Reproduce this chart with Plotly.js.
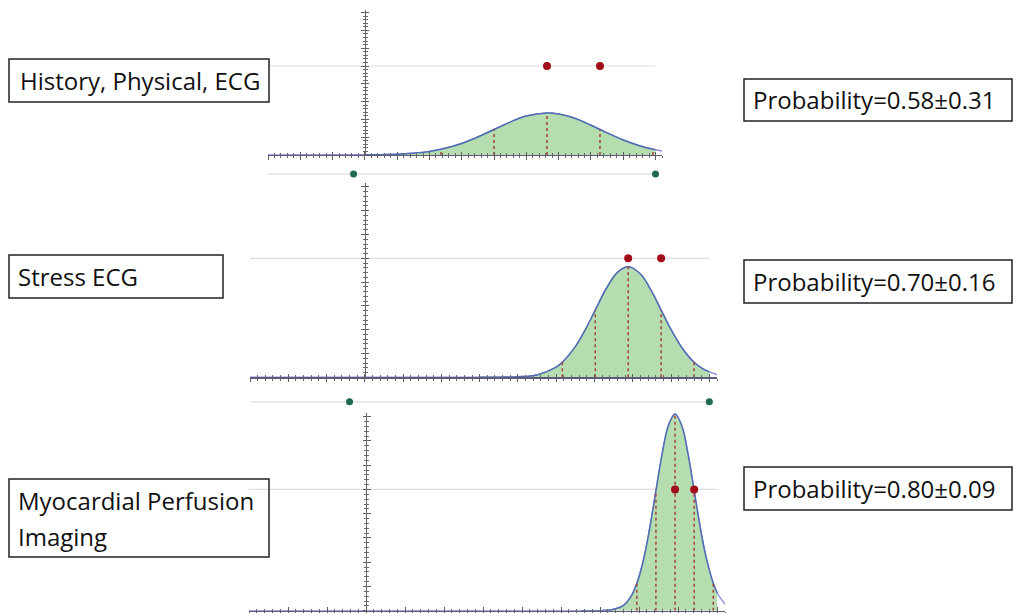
<!DOCTYPE html>
<html><head><meta charset="utf-8">
<script src="https://cdn.plot.ly/plotly-3.0.1.min.js"></script>
<style>html,body{margin:0;padding:0;background:#fff}#chart{width:1016px;height:613px}</style>
</head><body><div id="chart"></div>
<script>
// ---------------- data ----------------
const testNames = [["History, Physical, ECG"], ["Stress ECG"], ["Myocardial Perfusion", "Imaging"]];
const probLabels = ["Probability=0.58±0.31", "Probability=0.70±0.16", "Probability=0.80±0.09"];

// density curves (x = probability, y = height in axis units)
const curve1X = [-0.3, 0, 0.05, 0.1, 0.15, 0.2, 0.236, 0.3, 0.35, 0.4, 0.45, 0.5, 0.564, 0.6, 0.65, 0.7, 0.728, 0.75, 0.8, 0.85, 0.892, 0.9, 0.92];
const curve1Y = [0, 0.01, 0.02, 0.04, 0.10, 0.20, 0.32, 0.65, 1.01, 1.43, 1.85, 2.19, 2.36, 2.30, 2.06, 1.67, 1.43, 1.24, 0.84, 0.52, 0.32, 0.29, 0.22];
const curve2X = [-0.3, 0.3, 0.4, 0.45, 0.5, 0.516, 0.55, 0.58, 0.602, 0.63, 0.66, 0.688, 0.72, 0.75, 0.774, 0.8, 0.83, 0.86, 0.88, 0.9, 0.92];
const curve2Y = [0, 0, 0.02, 0.10, 0.43, 0.63, 1.29, 2.12, 2.82, 3.71, 4.41, 4.65, 4.34, 3.59, 2.82, 2.00, 1.20, 0.63, 0.39, 0.23, 0.12];
const curve3X = [-0.3, 0.55, 0.6, 0.63, 0.66, 0.68, 0.694, 0.71, 0.725, 0.743, 0.76, 0.775, 0.792, 0.81, 0.825, 0.841, 0.855, 0.87, 0.89, 0.9, 0.92];
const curve3Y = [0, 0, 0, 0.04, 0.22, 0.61, 1.12, 2.02, 3.21, 4.94, 6.56, 7.64, 8.11, 7.59, 6.48, 4.94, 3.57, 2.31, 1.12, 0.73, 0.27];

// dotted red guide positions (mean, ±1 sd, ±2 sd)
const dash1X = [0.236, 0.4, 0.564, 0.728, 0.892];
const dash2X = [0.516, 0.602, 0.688, 0.774, 0.86];
const dash3X = [0.694, 0.743, 0.792, 0.841, 0.89];

// red points on the reference line
const red1X = [0.564, 0.728];
const red2X = [0.688, 0.774];
const red3X = [0.792, 0.841];
const refLevel = 5;
const refLineX = [-0.3, 0.9];
const fillRange = [0, 0.9];

// green slider points below panels 1 and 2
const green1X = [-0.035, 0.9];
const green2X = [-0.04, 0.9];
const greenLevels = [-1.07, -1.03];

// ---------------- layout geometry ----------------
const W = 1016, H = 613;
const fx = p => p / W, fy = p => 1 - p / H;
const XR = [-0.3, 0.92], YTOP = 8.15;
const geom = [
  {x0: 268, x1: 662, base: 155,   ppu: 17.8,  strip: [163, 185]},
  {x0: 250, x1: 717, base: 377.3, ppu: 23.8,  strip: [390, 413]},
  {x0: 249, x1: 725, base: 610.7, ppu: 24.25, strip: null}
];
const panels = [
  {x: curve1X, y: curve1Y, dash: dash1X, red: red1X, green: green1X, gl: greenLevels[0]},
  {x: curve2X, y: curve2Y, dash: dash2X, red: red2X, green: green2X, gl: greenLevels[1]},
  {x: curve3X, y: curve3Y, dash: dash3X, red: red3X, green: null, gl: null}
];

const COL = {
  fill: '#b5ddb0', edge: '#4f6db2', tail: '#9088e2', dash: '#a3413b',
  red: '#a10c18', green: '#1f6a4f', ref: '#dedede', axis: '#5d5d7a', tick: '#5e5e5e'
};

const id = (a, n) => a + (n === 1 ? '' : n);
const traces = [];
const layout = {
  width: W, height: H, margin: {l: 0, r: 0, t: 0, b: 0}, autosize: false,
  paper_bgcolor: '#ffffff', plot_bgcolor: 'rgba(0,0,0,0)', showlegend: false,
  shapes: [], annotations: []
};

panels.forEach((p, i) => {
  const n = i + 1, g = geom[i];
  const xa = id('x', n), ya = id('y', n);
  const originPx = g.x0 + (0 - XR[0]) / (XR[1] - XR[0]) * (g.x1 - g.x0);
  const ydom = [fy(g.base), fy(g.base - YTOP * g.ppu)];

  const common = {showgrid: false, zeroline: false, showticklabels: false, fixedrange: true,
                  tickcolor: COL.tick, tickwidth: 1};
  layout[id('xaxis', n)] = Object.assign({}, common, {
    domain: [fx(g.x0), fx(g.x1)], range: XR, anchor: ya,
    showline: true, linecolor: COL.axis, linewidth: 1.3,
    tickmode: 'linear', tick0: 0, dtick: 0.1, ticks: 'outside', ticklen: 3.5,
    minor: {dtick: 0.02, tick0: 0, ticks: 'outside', ticklen: 2, tickcolor: '#6a6a6a'}
  });
  layout[id('xaxis', n + 3)] = Object.assign({}, common, {
    domain: [fx(g.x0), fx(g.x1)], range: XR, anchor: id('y', n + 3), overlaying: xa,
    showline: false, tickmode: 'linear', tick0: 0, dtick: 0.1, ticks: 'inside', ticklen: 3.5,
    minor: {dtick: 0.02, tick0: 0, ticks: 'inside', ticklen: 2, tickcolor: '#6a6a6a'}
  });
  layout[id('yaxis', n)] = Object.assign({}, common, {
    domain: ydom, range: [0, YTOP], anchor: 'free', position: fx(originPx),
    showline: true, linecolor: '#666', linewidth: 1.4,
    tickmode: 'linear', tick0: 0, dtick: 1, ticks: 'outside', ticklen: 3.5,
    minor: {dtick: 0.2, tick0: 0, ticks: 'outside', ticklen: 2, tickcolor: '#6a6a6a'}
  });
  layout[id('yaxis', n + 3)] = Object.assign({}, common, {
    domain: ydom, range: [0, YTOP], anchor: 'free', position: fx(originPx), overlaying: ya,
    showline: false, tickmode: 'linear', tick0: 0, dtick: 1, ticks: 'inside', ticklen: 3.5,
    minor: {dtick: 0.2, tick0: 0, ticks: 'inside', ticklen: 2, tickcolor: '#6a6a6a'}
  });
  traces.push({x: [], y: [], xaxis: id('x', n + 3), yaxis: id('y', n + 3), mode: 'lines', hoverinfo: 'skip'});

  // reference gray line
  traces.push({x: refLineX, y: refLineX.map(() => refLevel), xaxis: xa, yaxis: ya, mode: 'lines',
               line: {color: COL.ref, width: 1.2}, hoverinfo: 'skip'});
  // full curve (purple tail)
  traces.push({x: p.x, y: p.y, xaxis: xa, yaxis: ya, mode: 'lines',
               line: {color: COL.tail, width: 1.5, shape: 'spline'}, hoverinfo: 'skip'});
  // filled part
  const fxs = [], fys = [];
  p.x.forEach((v, k) => { if (v >= fillRange[0] && v <= fillRange[1]) { fxs.push(v); fys.push(p.y[k]); } });
  traces.push({x: fxs, y: fys, xaxis: xa, yaxis: ya, mode: 'lines', fill: 'tozeroy',
               fillcolor: COL.fill, line: {color: COL.edge, width: 1.5, shape: 'spline'}, hoverinfo: 'skip'});
  // dotted guides
  const dx = [], dy = [];
  p.dash.forEach(v => { const h = p.y[p.x.indexOf(v)]; dx.push(v, v, null); dy.push(0, h, null); });
  traces.push({x: dx, y: dy, xaxis: xa, yaxis: ya, mode: 'lines',
               line: {color: COL.dash, width: 1.5, dash: 'dot'}, hoverinfo: 'skip'});
  // red points
  traces.push({x: p.red, y: p.red.map(() => refLevel), xaxis: xa, yaxis: ya, mode: 'markers',
               marker: {color: COL.red, size: 8}, cliponaxis: false, hoverinfo: 'skip'});

  // green slider strip
  if (p.green) {
    const ys = id('y', n + 6);
    layout[id('yaxis', n + 6)] = {
      domain: [fy(g.strip[1]), fy(g.strip[0])],
      range: [-(g.strip[1] - g.base) / g.ppu, -(g.strip[0] - g.base) / g.ppu],
      anchor: xa, visible: false, fixedrange: true
    };
    traces.push({x: refLineX, y: refLineX.map(() => p.gl), xaxis: xa, yaxis: ys, mode: 'lines',
                 line: {color: COL.ref, width: 1.2}, hoverinfo: 'skip'});
    traces.push({x: p.green, y: p.green.map(() => p.gl), xaxis: xa, yaxis: ys, mode: 'markers',
                 marker: {color: COL.green, size: 7}, cliponaxis: false, hoverinfo: 'skip'});
  }
});

// ---------------- text boxes ----------------
const leftBoxes = [
  {x0: 9, y0: 59, x1: 269, y1: 102, tx: 18, ty: [80.5]},
  {x0: 9, y0: 255, x1: 223, y1: 298, tx: 16, ty: [276.5]},
  {x0: 9, y0: 479, x1: 269, y1: 557, tx: 16, ty: [500.5, 536]}
];
const rightBoxes = [
  {x0: 744, y0: 79, x1: 1012, y1: 121, tx: 751, ty: 99.5},
  {x0: 744, y0: 260, x1: 1012, y1: 303, tx: 751, ty: 281.5},
  {x0: 744, y0: 467, x1: 1012, y1: 510, tx: 751, ty: 488.5}
];
const FONT = {family: '"Open Sans", Lato, sans-serif', size: 24, color: '#111'};
const box = b => ({type: 'rect', xref: 'paper', yref: 'paper', x0: fx(b.x0), x1: fx(b.x1), y0: fy(b.y1), y1: fy(b.y0),
                   line: {color: '#222', width: 1.5}, fillcolor: 'rgba(0,0,0,0)', layer: 'above'});
testNames.forEach((lines, i) => {
  const b = leftBoxes[i];
  layout.shapes.push(box(b));
  lines.forEach((t, k) => layout.annotations.push({text: t, xref: 'paper', yref: 'paper', x: fx(b.tx), y: fy(b.ty[k]),
    xanchor: 'left', yanchor: 'middle', showarrow: false, font: FONT}));
});
probLabels.forEach((t, i) => {
  const b = rightBoxes[i];
  layout.shapes.push(box(b));
  layout.annotations.push({text: t, xref: 'paper', yref: 'paper', x: fx(b.tx), y: fy(b.ty),
    xanchor: 'left', yanchor: 'middle', showarrow: false, font: FONT});
});

Plotly.newPlot('chart', traces, layout, {staticPlot: true, displayModeBar: false});
</script></body></html>
